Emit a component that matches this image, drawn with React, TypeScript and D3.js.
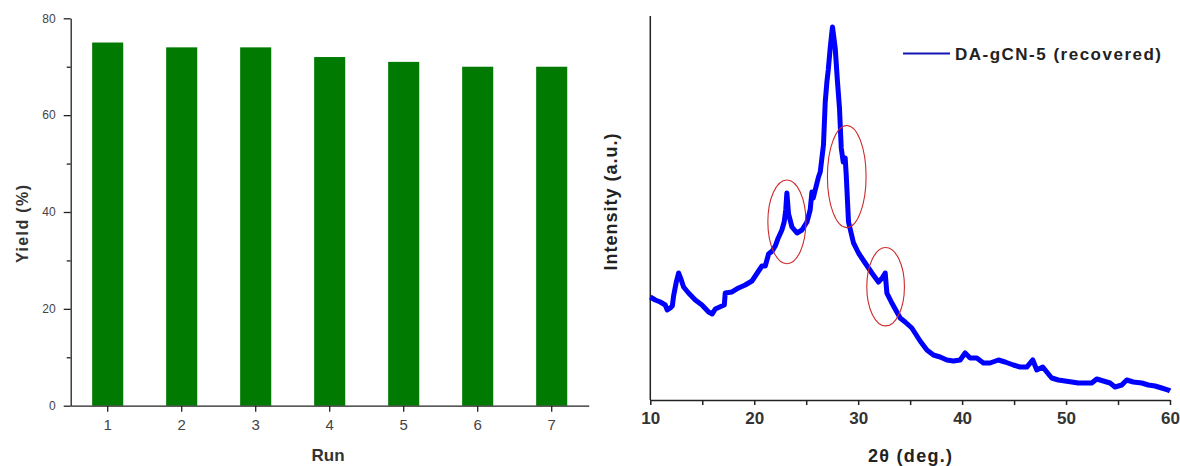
import * as d3 from 'd3'
import { useRef, useEffect } from 'react'

// left panel: yield per run
const runs = ['1', '2', '3', '4', '5', '6', '7']
const yieldValues = [75, 74, 74, 72, 71, 70, 70]
const yieldTicks = [0, 20, 40, 60, 80]
const yieldMinorTicks = [10, 30, 50, 70]

// right panel: XRD pattern of recovered catalyst (2theta, intensity a.u.)
const twoTheta = [
  10.0, 10.48, 10.96, 11.44, 11.63, 11.92, 12.12, 12.24, 12.5, 12.72, 12.98, 13.2, 13.68, 14.33,
  14.97, 15.61, 15.96, 16.25, 16.89, 17.12, 17.21, 17.86, 18.49, 19.13, 19.78, 20.1, 20.74, 21.06,
  21.38, 21.73, 22.02, 22.31, 22.66, 22.88, 23.03, 23.14, 23.3, 23.63, 24.11, 24.59, 25.07, 25.38,
  25.55, 25.67, 25.87, 26.18, 26.35, 26.66, 26.83, 26.99, 27.12, 27.31, 27.45, 27.53, 27.64, 27.79,
  28.01, 28.2, 28.37, 28.56, 28.75, 28.85, 29.07, 29.55, 30.03, 30.67, 31.32, 31.95, 32.31, 32.6,
  32.76, 33.24, 33.72, 34.04, 34.52, 35.16, 35.96, 36.61, 37.24, 37.88, 38.53, 39.16, 39.81, 40.29,
  40.77, 41.41, 42.05, 42.69, 43.49, 44.13, 44.93, 45.58, 46.22, 46.8, 47.18, 47.76, 48.3, 48.62,
  49.26, 49.9, 50.55, 51.18, 51.83, 52.47, 52.95, 53.59, 54.23, 54.71, 55.36, 55.84, 56.47, 57.28,
  57.91, 58.56, 59.2, 59.84, 60.0
]
const intensity = [
  26.82, 26.04, 25.52, 24.74, 23.44, 23.96, 24.48, 27.08, 30.73, 33.07, 31.25, 29.43, 27.86, 26.04,
  24.74, 22.92, 22.4, 23.7, 24.48, 24.74, 27.86, 28.13, 29.17, 29.95, 30.99, 32.29, 34.9, 34.9,
  38.02, 38.8, 40.1, 42.19, 44.27, 46.35, 49.48, 53.91, 48.44, 45.05, 43.49, 44.27, 46.35, 49.48,
  54.17, 52.6, 54.69, 58.07, 59.38, 66.41, 77.6, 82.81, 85.94, 91.67, 95.31, 97.14, 94.79, 91.67,
  82.81, 76.04, 65.63, 61.98, 63.02, 58.59, 46.35, 40.89, 38.28, 35.68, 33.07, 30.73, 31.77, 33.07,
  27.86, 25.26, 22.92, 21.35, 20.31, 18.75, 15.36, 13.02, 11.72, 11.2, 10.42, 10.16, 10.42, 12.24,
  10.94, 10.94, 9.64, 9.64, 10.42, 9.9, 9.11, 8.59, 8.59, 10.42, 7.81, 8.59, 6.77, 5.73,
  5.21, 4.95, 4.69, 4.43, 4.43, 4.43, 5.47, 4.95, 4.43, 3.39, 3.91, 5.21, 4.69, 4.43,
  3.91, 3.65, 3.13, 2.6, 2.34
]
const thetaTicks = [10, 15, 20, 25, 30, 35, 40, 45, 50, 55, 60]
const seriesName = 'DA-gCN-5 (recovered)'

// highlighted reflections: center 2theta, center intensity, half width (deg), half height (a.u.)
const highlights = [
  { cx: 23.14, cy: 46.4, rx: 1.83, ry: 10.9 },
  { cx: 28.9, cy: 58.2, rx: 1.86, ry: 13.3 },
  { cx: 32.64, cy: 29.5, rx: 1.81, ry: 10.2 }
]

const FONT = "'Liberation Sans', Arial, sans-serif"

const App = () => {
  const ref = useRef<SVGSVGElement>(null)

  useEffect(() => {
    const svg = d3.select(ref.current)
    svg.selectAll('*').remove()

    // ---------- left: bar chart ----------
    const x = d3.scaleBand().domain(runs).range([70.7, 588.7]).paddingInner(0.58).paddingOuter(0.29)
    const y = d3.scaleLinear().domain([0, 80]).range([405.7, 18.3])

    const left = svg.append('g')
    left
      .append('g')
      .selectAll('rect')
      .data(yieldValues)
      .enter()
      .append('rect')
      .attr('x', (d, i) => x(runs[i]))
      .attr('y', d => y(d))
      .attr('width', x.bandwidth())
      .attr('height', d => y(0) - y(d))
      .attr('fill', '#007a00')

    const yAx = left
      .append('g')
      .attr('transform', 'translate(70.7,0)')
      .call(d3.axisLeft(y).tickValues(yieldTicks).tickSize(7).tickPadding(8).tickSizeOuter(0))
    left
      .append('g')
      .attr('transform', 'translate(70.7,0)')
      .call(d3.axisLeft(y).tickValues(yieldMinorTicks).tickSize(4).tickFormat(() => '').tickSizeOuter(0))
      .select('.domain')
      .remove()
    yAx.selectAll('text').attr('font-size', 12).attr('fill', '#444').attr('font-family', FONT)

    const xAx = left
      .append('g')
      .attr('transform', 'translate(0,405.7)')
      .call(d3.axisBottom(x).tickSize(6).tickPadding(8).tickSizeOuter(0))
    xAx.selectAll('text').attr('font-size', 15).attr('fill', '#444').attr('font-family', FONT)

    left.selectAll('.domain, .tick line').attr('stroke', '#222').attr('stroke-width', 1.3)

    left
      .append('text')
      .attr('transform', 'translate(22,224) rotate(-90)')
      .attr('text-anchor', 'middle')
      .attr('dominant-baseline', 'central')
      .attr('font-family', FONT)
      .attr('font-weight', 'bold')
      .attr('font-size', 16)
      .attr('fill', '#333')
      .attr('textLength', 78)
      .text('Yield (%)')

    left
      .append('text')
      .attr('x', 328)
      .attr('y', 461)
      .attr('text-anchor', 'middle')
      .attr('font-family', FONT)
      .attr('font-weight', 'bold')
      .attr('font-size', 17)
      .attr('fill', '#333')
      .text('Run')

    // ---------- right: XRD line ----------
    const xr = d3.scaleLinear().domain([10, 60]).range([650.3, 1170])
    const yr = d3.scaleLinear().domain([0, 100]).range([400, 16])

    const right = svg.append('g')

    right
      .append('line')
      .attr('x1', xr(10))
      .attr('x2', xr(10))
      .attr('y1', 16)
      .attr('y2', 400)
      .attr('stroke', '#222')
      .attr('stroke-width', 1.5)

    const xrAx = right
      .append('g')
      .attr('transform', 'translate(0,400)')
      .call(
        d3
          .axisBottom(xr)
          .tickValues(thetaTicks)
          .tickSize(5)
          .tickPadding(7)
          .tickSizeOuter(0)
          .tickFormat(d => ((d as number) % 10 === 0 ? String(d) : ''))
      )
    xrAx.selectAll('.domain, .tick line').attr('stroke', '#222').attr('stroke-width', 1.5)
    xrAx
      .selectAll('text')
      .attr('font-size', 17)
      .attr('font-weight', 'bold')
      .attr('fill', '#333')
      .attr('font-family', FONT)

    const pts: [number, number][] = twoTheta.map((t, i) => [t, intensity[i]])
    const line = d3
      .line<[number, number]>()
      .x(d => xr(d[0]))
      .y(d => yr(d[1]))

    right
      .append('path')
      .datum(pts)
      .attr('d', line)
      .attr('fill', 'none')
      .attr('stroke', '#0000ff')
      .attr('stroke-width', 5)
      .attr('stroke-linejoin', 'round')

    right
      .append('g')
      .selectAll('ellipse')
      .data(highlights)
      .enter()
      .append('ellipse')
      .attr('cx', d => xr(d.cx))
      .attr('cy', d => yr(d.cy))
      .attr('rx', d => xr(d.cx + d.rx) - xr(d.cx))
      .attr('ry', d => yr(0) - yr(d.ry))
      .attr('fill', 'none')
      .attr('stroke', '#cc2a2a')
      .attr('stroke-width', 1.1)

    // legend
    right
      .append('line')
      .attr('x1', 903)
      .attr('x2', 950)
      .attr('y1', 53.5)
      .attr('y2', 53.5)
      .attr('stroke', '#1414b4')
      .attr('stroke-width', 2)
    right
      .append('text')
      .attr('x', 955)
      .attr('y', 59.5)
      .attr('font-family', FONT)
      .attr('font-weight', 'bold')
      .attr('font-size', 17)
      .attr('fill', '#222')
      .attr('textLength', 206)
      .text(seriesName)

    right
      .append('text')
      .attr('transform', 'translate(611,202) rotate(-90)')
      .attr('text-anchor', 'middle')
      .attr('dominant-baseline', 'central')
      .attr('font-family', FONT)
      .attr('font-weight', 'bold')
      .attr('font-size', 18)
      .attr('fill', '#222')
      .attr('textLength', 137)
      .text('Intensity (a.u.)')

    right
      .append('text')
      .attr('x', 868)
      .attr('y', 462)
      .attr('font-family', FONT)
      .attr('font-weight', 'bold')
      .attr('font-size', 18)
      .attr('fill', '#222')
      .attr('textLength', 84)
      .text('2θ (deg.)')
  }, [])

  return (
    <div style={{ position: 'absolute', left: 0, top: 0 }}>
      <svg ref={ref} width={1180} height={466} style={{ display: 'block', background: '#fff' }}></svg>
    </div>
  )
}

export default App
